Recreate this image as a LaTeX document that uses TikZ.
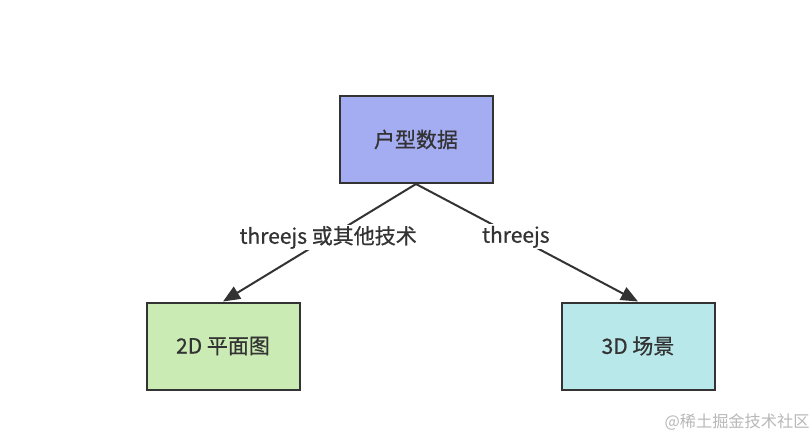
\documentclass[tikz,border=0pt]{standalone}
\usepackage{fontspec}
\setmainfont{Noto Sans CJK SC}
\newfontfamily\medfont{Noto Sans CJK SC}[FakeBold=0.7]
\usetikzlibrary{arrows.meta}
\definecolor{bordc}{HTML}{333333}
\definecolor{topc}{HTML}{A5ADF2}
\definecolor{leftc}{HTML}{CBEBB5}
\definecolor{rightc}{HTML}{B8E8EA}
\definecolor{wmc}{HTML}{B8B8B8}
\begin{document}
\begin{tikzpicture}[x=1pt,y=-1pt,
  boxnode/.style={draw=bordc,line width=2pt,minimum width=153pt,minimum height=87pt,inner sep=0pt,font=\medfont\fontsize{21}{24}\selectfont,text=bordc},
  conn/.style={draw=bordc,line width=2pt,-{Triangle[length=17pt,width=14pt]}},
  lbl/.style={fill=white,inner sep=1.5pt,font=\medfont\fontsize{21}{24}\selectfont,text=bordc}]
\useasboundingbox[fill=white] (0,0) rectangle (810,440);
\node[boxnode,fill=topc] (top) at (416,139.5) {户型数据};
\node[boxnode,fill=leftc] (left) at (223,346) {2D 平面图};
\node[boxnode,fill=rightc] (right) at (638,346) {3D 场景};
\draw[conn] (top.south) -- node[lbl,pos=0.455] (l1) {threejs 或其他技术} (left.north);
\draw[conn] (top.south) -- node[lbl,pos=0.45] (l2) {threejs} (right.north);
\node[text=wmc,font=\fontsize{16.2}{19}\selectfont] (wm) at (737,422) {@稀土掘金技术社区};
\end{tikzpicture}
\end{document}
